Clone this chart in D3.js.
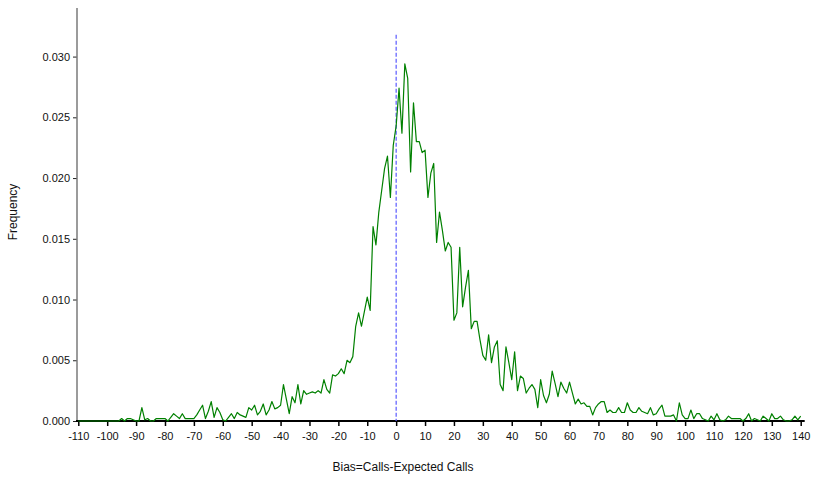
<!DOCTYPE html>
<html>
<head>
<meta charset="utf-8">
<script src="https://cdn.jsdelivr.net/npm/d3@7"></script>
<style>
  body { margin: 0; background: #fff; }
  svg { font-family: "Liberation Sans", Arial, sans-serif; }
  .axis text { font-size: 11px; fill: #111; }
</style>
</head>
<body>
<svg id="chart" width="814" height="478"></svg>
<script>
// bias bins run from -110 to 140 in steps of 1
const biasStart = -110;
const freq = [
  0, 0, 0, 0, 0, 0, 0, 0, 0, 0, 0, 0, 0, 0, 0,
  0.0002, 0, 0.0002, 0.0002, 0.0001, 0, 0, 0.0011, 0.0001, 0.0002,
  0, 0, 0.0002, 0.0002, 0.0002, 0.0002, 0, 0.0003, 0.0006, 0.0004,
  0.0002, 0.0006, 0.0002, 0.0002, 0.0002, 0.0002, 0.0005, 0.0009, 0.0013, 0.0002,
  0.0008, 0.0016, 0.0003, 0.0011, 0.0007, 0.0001, 0, 0.0003, 0.0006, 0.0002,
  0.0007, 0.0005, 0.0004, 0.0003, 0.0011, 0.0009, 0.0013, 0.0005, 0.0008, 0.0014,
  0.0005, 0.0009, 0.0016, 0.0010, 0.0011, 0.0013, 0.0030, 0.0018, 0.0006, 0.0020,
  0.0015, 0.0030, 0.0014, 0.0025, 0.0022, 0.0023, 0.0024, 0.0023, 0.0025, 0.0023,
  0.0034, 0.0026, 0.0023, 0.0038, 0.0037, 0.0039, 0.0043, 0.0039, 0.0050, 0.0048,
  0.0053, 0.0078, 0.0089, 0.0078, 0.0090, 0.0102, 0.0091, 0.0160, 0.0145, 0.0172,
  0.0190, 0.0208, 0.0218, 0.0184, 0.0227,
  0.0243, 0.0274, 0.0237, 0.0294, 0.0282, 0.0205, 0.0262, 0.0230, 0.0230, 0.0221,
  0.0223, 0.0184, 0.0204, 0.0212, 0.0147, 0.0172, 0.0157, 0.0140, 0.0147, 0.0143,
  0.0083, 0.0089, 0.0143, 0.0094, 0.0110, 0.0124, 0.0076, 0.0082, 0.0082, 0.0067,
  0.0054, 0.0050, 0.0071, 0.0048, 0.0061, 0.0066, 0.0030, 0.0025, 0.0061, 0.0048,
  0.0034, 0.0057, 0.0025, 0.0037, 0.0035, 0.0023, 0.0027, 0.0030, 0.0026, 0.0011,
  0.0034, 0.0021, 0.0015, 0.0022, 0.0041, 0.0031, 0.0020, 0.0032, 0.0027, 0.0023,
  0.0032, 0.0023, 0.0014, 0.0018, 0.0014, 0.0015, 0.0012, 0.0012, 0.0005, 0.0011,
  0.0014, 0.0016, 0.0016, 0.0007, 0.0009, 0.0007, 0.0007, 0.0011, 0.0007, 0.0007,
  0.0015, 0.0009, 0.0007, 0.0007, 0.0011, 0.0008, 0.0007, 0.0006, 0.0011, 0.0005,
  0.0006, 0.0010, 0.0013, 0.0004, 0.0004, 0.0004, 0.0005, 0, 0.0015, 0.0005,
  0.0002, 0.0002, 0.0009, 0.0002, 0.0006, 0.0006, 0.0002, 0.0001, 0, 0.0004,
  0.0001, 0.0006, 0.0001, 0, 0.0001, 0.0004, 0.0002, 0.0002, 0.0002, 0.0002,
  0, 0.0002, 0.0006, 0, 0.0002, 0.0001, 0, 0.0004, 0.0002, 0,
  0.0006, 0.0002, 0.0002, 0.0004, 0.0001, 0, 0, 0.0001, 0.0004, 0.0001,
  0.0004
];
const xTicks = [-110, -100, -90, -80, -70, -60, -50, -40, -30, -20, -10, 0, 10, 20, 30, 40, 50, 60, 70, 80, 90, 100, 110, 120, 130, 140];
const yTicks = [0, 0.005, 0.01, 0.015, 0.02, 0.025, 0.03];
const refBias = 0;
const refTop = 0.0318;

const data = freq.map((f, i) => ({ bias: biasStart + i, f }));

const svg = d3.select("#chart");
const x = d3.scaleLinear().domain([-110, 140]).range([78.3, 800.7]);
const y = d3.scaleLinear().domain([0, 0.034]).range([421, 8]);

// y axis
const yAxis = (g) =>
  g
    .attr("transform", "translate(77,0)")
    .call(d3.axisLeft(y).tickValues(yTicks).tickFormat(d3.format(".3f")).tickSize(4).tickPadding(3).tickSizeOuter(0))
    .call((g) => g.select(".domain").remove())
    .call((g) => g.selectAll(".tick line").attr("stroke", "#222"));

svg.append("g").attr("class", "axis y-axis").call(yAxis);
svg
  .append("line")
  .attr("x1", 77)
  .attr("x2", 77)
  .attr("y1", y.range()[1])
  .attr("y2", y(0))
  .attr("stroke", "#7a7a7a")
  .attr("stroke-width", 1.5);

// x axis, plain hyphen for negatives like the original
const xAxis = (g) =>
  g
    .attr("transform", `translate(0,${y(0)})`)
    .call(
      d3
        .axisBottom(x)
        .tickValues(xTicks)
        .tickFormat((d) => String(d))
        .tickSize(5)
        .tickPadding(6)
        .tickSizeOuter(0)
    )
    .call((g) => g.select(".domain").remove())
    .call((g) => g.selectAll(".tick line").attr("stroke", "#000").attr("stroke-width", 1.5));

svg.append("g").attr("class", "axis x-axis").call(xAxis);
svg
  .append("line")
  .attr("x1", 76)
  .attr("x2", x.range()[1] + 4)
  .attr("y1", y(0))
  .attr("y2", y(0))
  .attr("stroke", "#000")
  .attr("stroke-width", 2);

// reference line at zero bias
svg
  .append("line")
  .attr("x1", x(refBias))
  .attr("x2", x(refBias))
  .attr("y1", y(refTop))
  .attr("y2", y(0))
  .attr("stroke", "#5a5aff")
  .attr("stroke-width", 1.2)
  .attr("stroke-dasharray", "4,2");

const line = d3
  .line()
  .x((d) => x(d.bias))
  .y((d) => y(d.f));

svg
  .append("path")
  .datum(data)
  .attr("fill", "none")
  .attr("stroke", "#008000")
  .attr("stroke-width", 1.2)
  .attr("stroke-linejoin", "round")
  .attr("d", line);

svg
  .append("text")
  .attr("transform", "translate(17,212) rotate(-90)")
  .attr("text-anchor", "middle")
  .style("font-size", "12px")
  .attr("fill", "#111")
  .text("Frequency");

svg
  .append("text")
  .attr("x", 403)
  .attr("y", 471)
  .attr("text-anchor", "middle")
  .style("font-size", "12px")
  .attr("fill", "#111")
  .text("Bias=Calls-Expected Calls");
</script>
</body>
</html>
